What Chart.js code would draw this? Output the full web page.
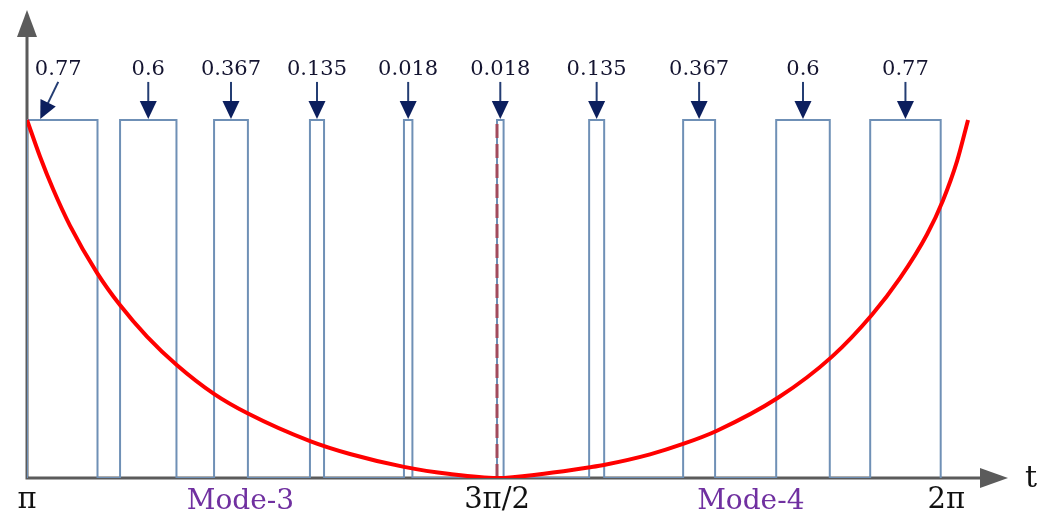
<!DOCTYPE html>
<html lang="pt">
<head>
<meta charset="utf-8">
<title>Mode-3 / Mode-4</title>
<script src="https://cdn.jsdelivr.net/npm/chart.js@4.4.1/dist/chart.umd.min.js"></script>
<style>
  html, body { margin: 0; padding: 0; background: #fff; }
  #caixa { width: 1049px; height: 515px; position: relative; }
</style>
</head>
<body>
<div id="caixa"><canvas id="grafico"></canvas></div>
<script>
// inicio e fim de cada pulso, em unidades de t/π
const inicioPulso = [1.000, 1.099, 1.199, 1.301, 1.401, 1.500, 1.598, 1.698, 1.797, 1.897];
const fimPulso    = [1.075, 1.159, 1.235, 1.316, 1.410, 1.507, 1.614, 1.732, 1.854, 1.972];
// largura escrita em cima de cada pulso
const larguraPulso = ['0.77', '0.6', '0.367', '0.135', '0.018', '0.018', '0.135', '0.367', '0.6', '0.77'];

// curva vermelha (t/π, valor)
const curvaT = [1.000, 1.0138, 1.0277, 1.0457, 1.0745, 1.0989, 1.1277, 1.1596, 1.1989, 1.2351, 1.3011, 1.3436, 1.4011, 1.4500, 1.5000,
                1.5500, 1.5989, 1.6149, 1.6628, 1.6979, 1.7340, 1.7989, 1.8564, 1.8989, 1.9287, 1.9574, 1.9745, 1.9894, 2.0011];
const curvaV = [1.000, 0.898, 0.807, 0.705, 0.573, 0.483, 0.395, 0.315, 0.235, 0.180, 0.103, 0.067, 0.031, 0.011, 0.000,
                0.012, 0.030, 0.037, 0.066, 0.095, 0.132, 0.224, 0.339, 0.456, 0.558, 0.680, 0.776, 0.885, 1.000];

// rotulos do eixo t
const ticksT = [1, 1.5, 1.978];
const ticksTexto = ['π', '3π/2', '2π'];

// nomes dos modos embaixo do eixo
const modosT = [1.227, 1.770];
const modosTexto = ['Mode-3', 'Mode-4'];

const CINZA = '#5b5b5b';
const AZUL_PULSO = '#6f90b6';
const AZUL_SETA = '#0c1f5e';

// monta o contorno dos pulsos como uma linha so
const pontosPulso = [];
inicioPulso.forEach((ini, i) => {
    pontosPulso.push({ x: ini, y: 0 }, { x: ini, y: 1 }, { x: fimPulso[i], y: 1 }, { x: fimPulso[i], y: 0 });
});

const pontosCurva = curvaT.map((t, i) => ({ x: t, y: curvaV[i] }));

// desenha os eixos com as setas
const pluginEixos = {
    id: 'eixos',
    beforeDatasetsDraw(chart) {
        const { ctx, chartArea: a } = chart;
        ctx.save();
        ctx.strokeStyle = CINZA;
        ctx.fillStyle = CINZA;
        ctx.lineWidth = 3;
        ctx.beginPath();
        ctx.moveTo(a.left, a.bottom);
        ctx.lineTo(a.left, a.top + 20);
        ctx.moveTo(a.left - 1.5, a.bottom);
        ctx.lineTo(a.right - 20, a.bottom);
        ctx.stroke();
        // seta de cima
        ctx.beginPath();
        ctx.moveTo(a.left, a.top);
        ctx.lineTo(a.left - 10, a.top + 27);
        ctx.lineTo(a.left + 10, a.top + 27);
        ctx.closePath();
        ctx.fill();
        // seta da direita
        ctx.beginPath();
        ctx.moveTo(a.right, a.bottom);
        ctx.lineTo(a.right - 28, a.bottom - 10);
        ctx.lineTo(a.right - 28, a.bottom + 10);
        ctx.closePath();
        ctx.fill();
        ctx.restore();
    }
};

// textos, setas dos pulsos e rotulos do eixo
const pluginTextos = {
    id: 'textos',
    afterDatasetsDraw(chart) {
        const { ctx, chartArea: a } = chart;
        const xs = chart.scales.x;
        const ys = chart.scales.y;
        const topo = ys.getPixelForValue(1);
        ctx.save();

        larguraPulso.forEach((txt, i) => {
            const meio = xs.getPixelForValue((inicioPulso[i] + fimPulso[i]) / 2);
            // a primeira seta vem torta, apontando pro canto
            const xTexto = i === 0 ? meio - 4 : meio;
            const xPonta = i === 0 ? meio - 22 : meio;
            const yPonta = topo - 1;
            const yBase = topo - 38;
            const ang = Math.atan2(yPonta - yBase, xPonta - xTexto);
            ctx.strokeStyle = '#243d73';
            ctx.lineWidth = 2;
            ctx.beginPath();
            ctx.moveTo(xTexto, yBase);
            ctx.lineTo(xPonta - Math.cos(ang) * 14, yPonta - Math.sin(ang) * 14);
            ctx.stroke();
            ctx.fillStyle = AZUL_SETA;
            ctx.beginPath();
            ctx.moveTo(xPonta, yPonta);
            ctx.lineTo(xPonta - Math.cos(ang) * 18 + Math.sin(ang) * 8.5, yPonta - Math.sin(ang) * 18 - Math.cos(ang) * 8.5);
            ctx.lineTo(xPonta - Math.cos(ang) * 18 - Math.sin(ang) * 8.5, yPonta - Math.sin(ang) * 18 + Math.cos(ang) * 8.5);
            ctx.closePath();
            ctx.fill();

            ctx.fillStyle = '#141430';
            ctx.font = '21px "DejaVu Serif"';
            ctx.textAlign = 'center';
            ctx.textBaseline = 'alphabetic';
            ctx.fillText(txt, xTexto, topo - 45);
        });

        // rotulos π, 3π/2, 2π
        ctx.fillStyle = '#111';
        ctx.font = '29px "DejaVu Serif"';
        ctx.textAlign = 'center';
        ticksT.forEach((t, i) => {
            ctx.fillText(ticksTexto[i], xs.getPixelForValue(t), a.bottom + 30);
        });

        // Mode-3 e Mode-4
        ctx.fillStyle = '#7030a0';
        ctx.font = '28px "DejaVu Serif"';
        modosT.forEach((t, i) => {
            ctx.fillText(modosTexto[i], xs.getPixelForValue(t), a.bottom + 31);
        });

        // nome do eixo
        ctx.fillStyle = '#111';
        ctx.font = '30px "DejaVu Serif"';
        ctx.textAlign = 'left';
        ctx.fillText('t', a.right + 17, a.bottom + 9);
        ctx.restore();
    }
};

const ctx = document.getElementById('grafico').getContext('2d');
window.graficoModos = new Chart(ctx, {
    type: 'line',
    data: {
        datasets: [
            {
                data: pontosPulso,
                borderColor: AZUL_PULSO,
                borderWidth: 2,
                pointRadius: 0,
                tension: 0,
                order: 3
            },
            {
                // linha tracejada em 3π/2, por cima do pulso
                data: [{ x: 1.5, y: 0 }, { x: 1.5, y: 1 }],
                borderColor: '#a14b5d',
                borderWidth: 3,
                borderDash: [14, 6],
                pointRadius: 0,
                order: 2
            },
            {
                data: pontosCurva,
                borderColor: '#ff0000',
                borderWidth: 4,
                pointRadius: 0,
                cubicInterpolationMode: 'monotone',
                order: 1
            }
        ]
    },
    options: {
        responsive: true,
        maintainAspectRatio: false,
        animation: false,
        layout: { padding: { left: 27, right: 41, top: 10, bottom: 37 } },
        plugins: { legend: { display: false }, tooltip: { enabled: false } },
        scales: {
            x: { type: 'linear', min: 1, max: 2.0436, display: false },
            y: { type: 'linear', min: 0, max: 1.307, display: false }
        }
    },
    plugins: [pluginEixos, pluginTextos]
});
</script>
</body>
</html>
